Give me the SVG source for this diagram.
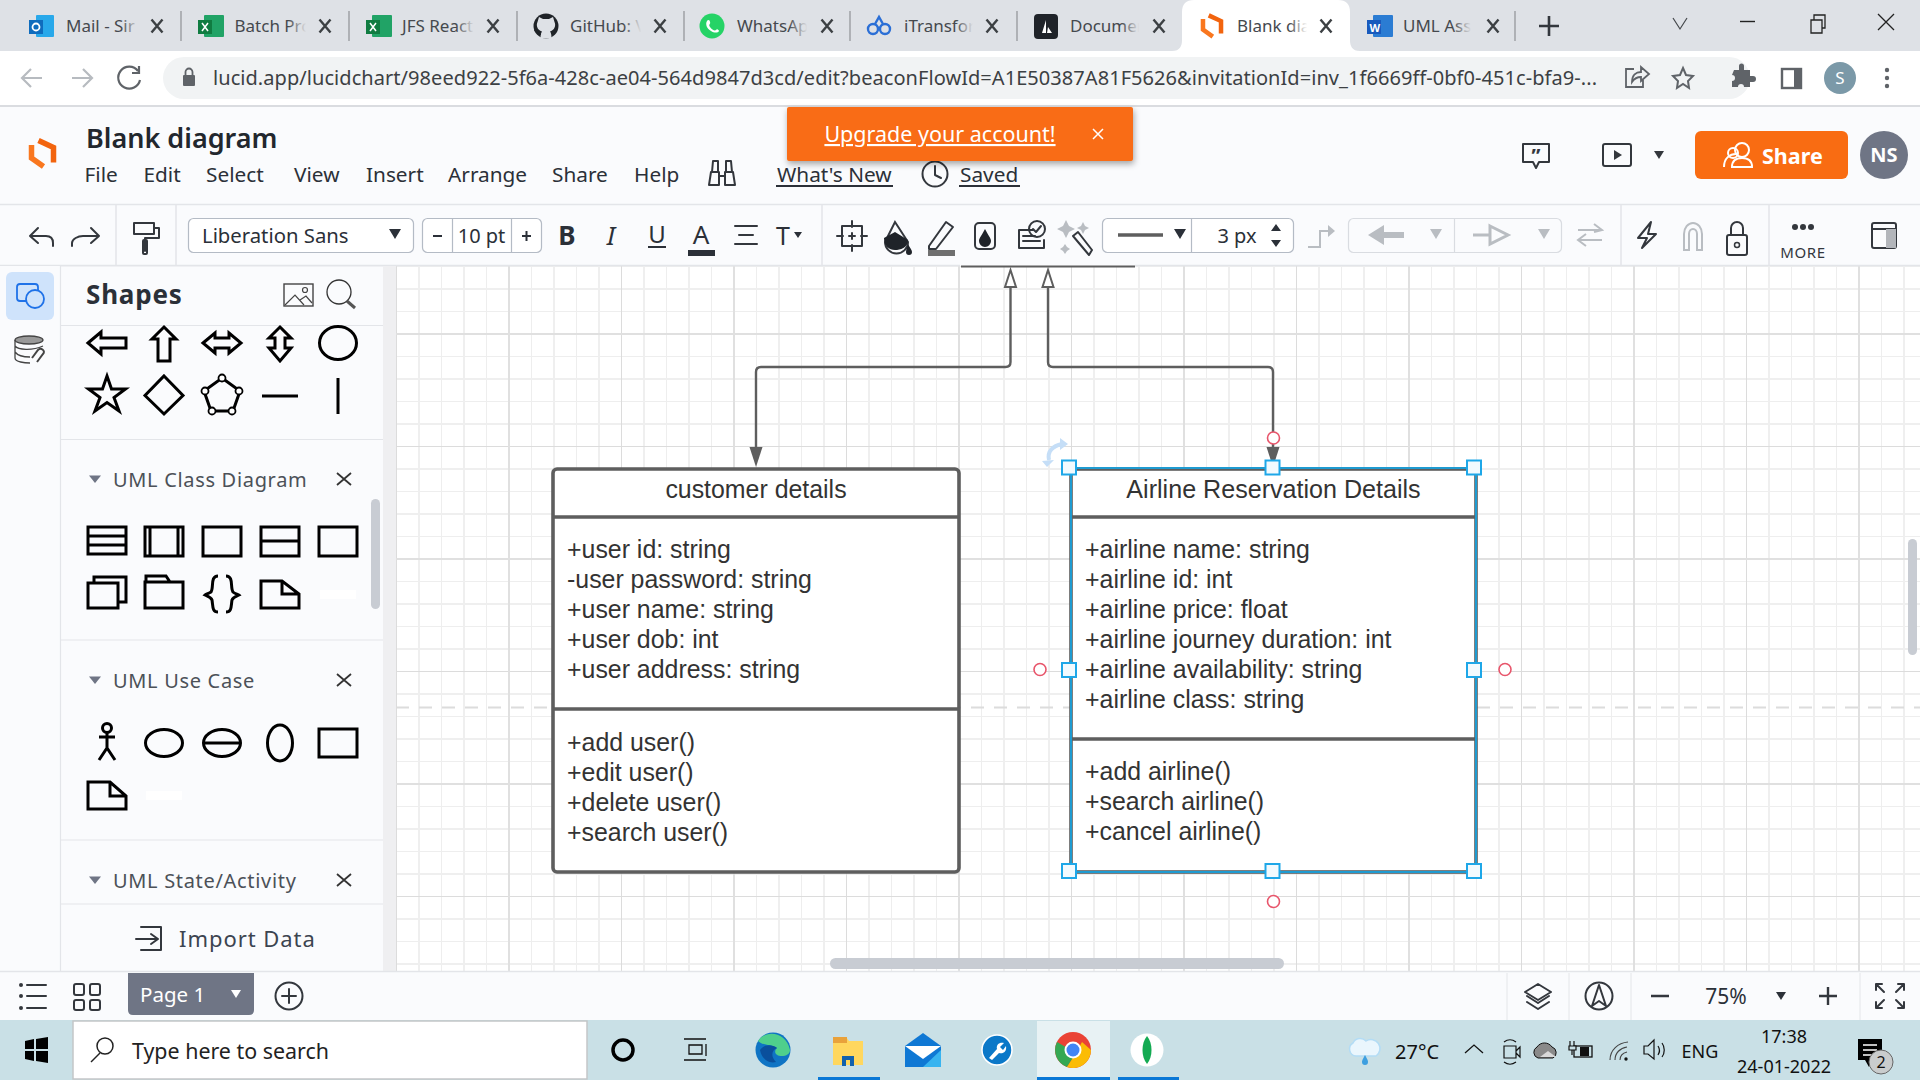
<svg xmlns="http://www.w3.org/2000/svg" width="1920" height="1080" viewBox="0 0 1920 1080">
<style>
text{font-family:"Noto Sans","Open Sans",sans-serif}
.tab{font-size:17px;fill:#45494e}
.x{fill:none;stroke:#3c4043;stroke-width:2.4}
.div{stroke:#8f9296;stroke-width:1.2}
.menu{font-size:20.800px;fill:#2b3038}
.ic{fill:none;stroke:#33373d;stroke-width:2;stroke-linecap:round;stroke-linejoin:round}
.dis{fill:none;stroke:#b9bdc2;stroke-width:2}
.sh{fill:none;stroke:#000;stroke-width:3}
.sec{font-size:20px;fill:#4c5158;letter-spacing:.68px}
.sep{stroke:#e3e5e9;stroke-width:1.5}
.uml{font-family:"Liberation Sans",Arial,sans-serif;font-size:24.900px;fill:#333}
.box{fill:#fff;stroke:#5e5e5e;stroke-width:3.6}
.bar{stroke:#5e5e5e;stroke-width:3.6}
.conn{fill:none;stroke:#5e5e5e;stroke-width:2.4}
.h{fill:#f2fafe;stroke:#1ea7e8;stroke-width:2}
.rc{fill:#fff;stroke:#e8556b;stroke-width:1.6}
.tri{fill:#2b3038}
.drop{fill:#fff;stroke:#b4bbc5;stroke-width:1.2}
</style>
<defs>
<pattern id="grid" patternUnits="userSpaceOnUse" width="225" height="225" x="59" y="109">
<rect width="225" height="225" fill="#fff"/>
<path d="M22.500 0V225M67.500 0V225M157.500 0V225M202.500 0V225M0 22.500H225M0 67.500H225M0 157.500H225M0 202.500H225" stroke="#eeeeee" stroke-width="1"/>
<path d="M45 0V225M90 0V225M135 0V225M180 0V225M0 45H225M0 90H225M0 135H225M0 180H225" stroke="#efefef" stroke-width="2"/>
<path d="M112.500 0V225M0 112.500H225" stroke="#dcdcdc" stroke-width="1"/>
<path d="M0 0V225M225 0V225M0 0H225M0 225H225" stroke="#e0e0e0" stroke-width="2"/>
</pattern>
<linearGradient id="fg"><stop offset="0" stop-color="#dee1e6" stop-opacity="0"/><stop offset=".65" stop-color="#dee1e6"/><stop offset="1" stop-color="#dee1e6"/></linearGradient>
<linearGradient id="fw"><stop offset="0" stop-color="#fff" stop-opacity="0"/><stop offset=".65" stop-color="#fff"/><stop offset="1" stop-color="#fff"/></linearGradient>
<filter id="sd" x="-5%" y="-20%" width="110%" height="150%"><feDropShadow dx="1" dy="3" stdDeviation="3" flood-color="#000" flood-opacity=".35"/></filter>
<path id="cx" d="M-5.500-6.500L5.500 6.500M5.500-6.500L-5.500 6.500" class="x"/>
<g id="lucid" fill="none" stroke-width="5.500" stroke-linejoin="miter"><path d="M-4-13L11-6V9" stroke="#f2640e"/><path d="M-11-8.500V4.500L1 13" stroke="#f9771f"/></g>
<path id="mx" d="M-7-6L7 6M7-6L-7 6" fill="none" stroke="#333" stroke-width="1.800"/>
<path id="st" d="M-6-3.500H6L0 4Z" fill="#6f7585"/>
</defs>

<g id="browser-chrome">
<rect width="1920" height="51" fill="#dee1e6"/>
<rect y="51" width="1920" height="54" fill="#fff"/>
<rect y="105" width="1920" height="2" fill="#dadce0"/>
<path d="M1172 51C1180 51 1182 46 1182 40V12C1182 4 1186 0 1194 0H1338C1346 0 1350 4 1350 12V40C1350 46 1352 51 1360 51Z" fill="#fff"/>
<path class="div" d="M181 11V41M349 11V41M517 11V41M684 11V41M850 11V41M1017 11V41M1515 11V41"/>
<text class="tab" x="66" y="32">Mail - Sir</text>
<text class="tab" x="234.500" y="32">Batch Prc</text>
<text class="tab" x="402" y="32">JFS React</text>
<text class="tab" x="570" y="32">GitHub: V</text>
<text class="tab" x="737" y="32">WhatsAp</text>
<text class="tab" x="904" y="32">iTransfor</text>
<text class="tab" x="1070" y="32">Documer</text>
<text class="tab" x="1237" y="32">Blank dia</text>
<text class="tab" x="1403" y="32">UML Ass</text>
<rect x="121" y="10" width="28" height="30" fill="url(#fg)"/>
<rect x="288" y="10" width="28" height="30" fill="url(#fg)"/>
<rect x="456" y="10" width="28" height="30" fill="url(#fg)"/>
<rect x="623" y="10" width="28" height="30" fill="url(#fg)"/>
<rect x="789" y="10" width="28" height="30" fill="url(#fg)"/>
<rect x="956" y="10" width="26" height="30" fill="url(#fg)"/>
<rect x="1121" y="10" width="28" height="30" fill="url(#fg)"/>
<rect x="1289" y="10" width="28" height="30" fill="url(#fw)"/>
<rect x="1453" y="10" width="28" height="30" fill="url(#fg)"/>
<use href="#cx" x="157" y="26"/><use href="#cx" x="325" y="26"/><use href="#cx" x="493" y="26"/><use href="#cx" x="660" y="26"/><use href="#cx" x="827" y="26"/><use href="#cx" x="992" y="26"/><use href="#cx" x="1159" y="26"/><use href="#cx" x="1326" y="26"/><use href="#cx" x="1493" y="26"/>
<rect x="36" y="15" width="18" height="22" rx="1" fill="#28a8ea"/><rect x="29" y="20" width="14" height="14" fill="#0f6cbd"/><circle cx="36" cy="27" r="3.500" fill="none" stroke="#fff" stroke-width="1.800"/>
<rect x="204" y="15" width="20" height="22" rx="1" fill="#21a366"/><rect x="198" y="20" width="14" height="14" fill="#107c41"/><path d="M202 23L208 31M208 23L202 31" stroke="#fff" stroke-width="1.500"/>
<rect x="372" y="15" width="20" height="22" rx="1" fill="#21a366"/><rect x="366" y="20" width="14" height="14" fill="#107c41"/><path d="M370 23L376 31M376 23L370 31" stroke="#fff" stroke-width="1.500"/>
<circle cx="546" cy="26" r="12.500" fill="#1f2328"/><path d="M539 17L543 19H549L553 17L554.500 22C556 25 555 30 550 31.500C551 33 551.500 34 551.500 38.500H540.500C540.500 34.500 541 33 542 31.500C537 30 536 25 537.500 22Z" fill="#dee1e6"/><path d="M534.500 30C537 31 538 34 541 34" fill="none" stroke="#1f2328" stroke-width="1.800"/>
<circle cx="712" cy="26" r="12.500" fill="#25d366"/><path d="M707 21C708 19 710 20 710 22C711 24 708 24 710 27C712 30 715 31 716 30C717 28 719 30 719 31C718 33 714 33 711 31C707 29 705 24 707 21Z" fill="#fff"/>
<g fill="none" stroke="#2b6fd6" stroke-width="2.400"><circle cx="873" cy="29" r="5"/><circle cx="885" cy="29" r="5"/><path d="M875 24L879 17L883 24M878 29H880"/></g>
<rect x="1034" y="14" width="24" height="25" rx="4" fill="#1f2329"/><path d="M1046 20L1042 33H1046ZM1048 27L1047 33H1052Z" fill="#fff"/>
<use href="#lucid" transform="translate(1212 26) scale(.82)"/>
<rect x="1373" y="15" width="20" height="22" rx="1" fill="#2b7cd3"/><rect x="1367" y="20" width="14" height="14" fill="#185abd"/><text x="1369.500" y="31.500" font-size="11" font-weight="700" fill="#fff">W</text>
<path d="M1549 16V36M1539 26H1559" stroke="#33373d" stroke-width="2.600"/>
<path d="M1673 18L1680 29L1687 18" fill="none" stroke="#44474b" stroke-width="1.200"/>
<path d="M1740 21.500H1755" stroke="#222" stroke-width="1.400"/>
<path d="M1811 20H1822V33H1811ZM1814 20V15H1825V28H1822" fill="none" stroke="#222" stroke-width="1.300"/>
<path d="M1878 14L1894 30M1894 14L1878 30" stroke="#222" stroke-width="1.300"/>
<rect x="163" y="57" width="1587" height="42" rx="21" fill="#f1f3f4"/>
<path d="M42 78H23M31 69L22 78L31 87" fill="none" stroke="#b7bbc0" stroke-width="2.200"/>
<path d="M72 78H91M83 69L92 78L83 87" fill="none" stroke="#b7bbc0" stroke-width="2.200"/>
<path d="M138 71A11 11 0 1 0 140 80M139 66V73H132" fill="none" stroke="#5f6368" stroke-width="2.200"/>
<rect x="183" y="75" width="12" height="11" rx="1" fill="#5f6368"/><path d="M185.500 75V72A3.500 3.500 0 0 1 192.500 72V75" fill="none" stroke="#5f6368" stroke-width="1.800"/>
<text x="213" y="85" font-size="20" fill="#3c4043" textLength="1384" lengthAdjust="spacing">lucid.app/lucidchart/98eed922-5f6a-428c-ae04-564d9847d3cd/edit?beaconFlowId=A1E50387A81F5626&amp;invitationId=inv_1f6669ff-0bf0-451c-bfa9-...</text>
<path d="M1643 80V87H1626V69H1634M1632 82C1632 75 1636 72 1641 72V67L1649 74L1641 81V77C1637 77 1634 79 1632 82Z" fill="none" stroke="#5f6368" stroke-width="1.800"/>
<path d="M1683 68L1686 75L1693 76L1688 81L1689 88L1683 84L1677 88L1678 81L1673 76L1680 75Z" fill="none" stroke="#5f6368" stroke-width="2"/>
<path d="M1736 73H1741V69A2.500 2.500 0 0 1 1746 69V73H1752V79H1755A3 3 0 0 1 1755 85H1752V90H1746A3 3 0 0 0 1740 90H1734V84A3 3 0 0 0 1734 78Z" fill="#5f6368" transform="translate(-2 -3)"/>
<rect x="1782" y="69" width="19" height="19" fill="none" stroke="#5f6368" stroke-width="2.400"/><rect x="1794" y="69" width="7" height="19" fill="#5f6368"/>
<circle cx="1840" cy="78" r="16" fill="#7b99a8"/><text x="1840" y="84" font-size="17" fill="#fff" text-anchor="middle">S</text>
<g fill="#5f6368"><circle cx="1887" cy="70" r="2.200"/><circle cx="1887" cy="78" r="2.200"/><circle cx="1887" cy="86" r="2.200"/></g>
</g>

<g id="canvas">
<rect x="396" y="266" width="1524" height="705" fill="url(#grid)"/>
<path d="M396 707.500H1920" stroke="#dcdcdc" stroke-width="2" stroke-dasharray="13 10"/>
<rect x="830" y="958" width="454" height="11" rx="5.500" fill="#c8ccd3"/>
<rect x="1908" y="539" width="9" height="116" rx="4.500" fill="#c8ccd3"/>
</g>

<g id="app-header">
<rect y="107" width="1920" height="97" fill="#fafbfd"/>
<use href="#lucid" transform="translate(42.500 153.500)"/>
<text x="86" y="148" font-size="27" font-weight="600" fill="#22272e">Blank diagram</text>
<text class="menu" x="84.500" y="182">File</text><text class="menu" x="143.500" y="182">Edit</text><text class="menu" x="206" y="182">Select</text><text class="menu" x="294" y="182">View</text><text class="menu" x="366" y="182">Insert</text><text class="menu" x="448" y="182">Arrange</text><text class="menu" x="552" y="182">Share</text><text class="menu" x="634" y="182">Help</text>
<path class="ic" d="M709 185L711 172H719V185ZM735 185L733 172H725V185ZM719 176H725M712 172L713 161H718V172M732 172L731 161H726V172"/>
<text class="menu" x="777" y="182">What's New</text><path d="M776 186H893" stroke="#2b3038" stroke-width="1.800"/>
<circle class="ic" cx="935" cy="174" r="12.500"/><path class="ic" d="M935 166V175L941 178"/>
<text class="menu" x="960" y="182">Saved</text><path d="M959 186H1020" stroke="#2b3038" stroke-width="1.800"/>
<g id="upgrade-banner"><rect x="787" y="107" width="346" height="54" rx="2" fill="#f96c12" filter="url(#sd)"/>
<text x="940" y="142" font-size="21.500" fill="#fff" text-anchor="middle" text-decoration="underline">Upgrade your account!</text>
<path d="M1093 129L1103 139M1103 129L1093 139" stroke="#fff" stroke-width="1.500"/></g>
<path class="ic" d="M1523 144H1549V162H1539L1536 168L1533 162H1523Z"/><text x="1536" y="163" font-size="20" font-weight="700" fill="#33373d" text-anchor="middle">”</text>
<rect class="ic" x="1603" y="144" width="28" height="22" rx="2"/><path d="M1614 150L1622 155L1614 160Z" fill="#33373d"/>
<path d="M1654 151H1664L1659 159Z" fill="#33373d"/>
<rect x="1695" y="131" width="153" height="48" rx="6" fill="#f96c12"/>
<g fill="none" stroke="#fff" stroke-width="2"><circle cx="1742" cy="150" r="7"/><path d="M1724 167C1724 158 1730 154 1736 154M1732 167C1732 160 1737 158 1742 158C1750 158 1752 162 1752 167Z"/><circle cx="1733" cy="153" r="5"/></g>
<text x="1762" y="164" font-size="21.500" font-weight="700" fill="#fff">Share</text>
<circle cx="1884" cy="155" r="24" fill="#6f7585"/><text x="1884" y="162" font-size="20" font-weight="700" fill="#fff" text-anchor="middle">NS</text>
</g>

<g id="toolbar">
<rect y="204" width="1920" height="62" fill="#fafbfd"/>
<path d="M0 204.500H1920M0 265.500H960M1135 265.500H1920" stroke="#e3e5e9" stroke-width="1.500"/>
<path class="sep" d="M116 205V265M176 205V265M822 205V265M1621 205V265M1769 205V265"/>
<path class="ic" d="M30 236L38 228M30 236H46C51 236 53 239 53 243V246M30 236L38 243"/>
<path class="ic" d="M100 236L92 228M100 236H84C79 236 73 239 73 243V246M100 236L92 243" transform="translate(-1 0)"/>
<path class="ic" d="M134 223H154V234H134ZM154 228H159V238H145V251"/><rect x="143" y="240" width="4" height="14" rx="1" fill="none" stroke="#33373d" stroke-width="2"/>
<rect class="drop" x="188.500" y="218.500" width="225" height="34" rx="5"/>
<text x="202" y="243" font-size="20.300" fill="#2b3038">Liberation Sans</text>
<path d="M389 229H401L395 239Z" class="tri"/>
<rect class="drop" x="422.500" y="218.500" width="119" height="34" rx="5"/>
<path d="M452.500 218V252M511.500 218V252" stroke="#b4bbc5" stroke-width="1.200"/>
<path d="M433 236H442M522 236H531M526.500 231V241" stroke="#2b3038" stroke-width="2"/>
<text x="481.500" y="243" font-size="20" fill="#2b3038" text-anchor="middle">10 pt</text>
<text x="567" y="245" font-size="26" font-weight="700" fill="#2b3038" text-anchor="middle">B</text>
<text x="611" y="245" font-size="26" font-style="italic" fill="#2b3038" text-anchor="middle">I</text>
<text x="657" y="243" font-size="24" fill="#2b3038" text-anchor="middle">U</text><path d="M648 247H666" stroke="#2b3038" stroke-width="2"/>
<text x="701" y="244" font-size="26" fill="#2b3038" text-anchor="middle">A</text><rect x="688" y="250" width="27" height="6" fill="#2b3038"/>
<path class="ic" d="M735 226H757M739 235H753M735 244H757"/>
<text x="783" y="245" font-size="25" fill="#2b3038" text-anchor="middle">T</text><path d="M794 232H802L798 238Z" class="tri"/>
<path class="ic" d="M842 226H862V246H842Z"/><path class="ic" d="M852 221V227M852 245V251M837 236H843M861 236H867M849 236H855M852 233V239"/>
<path d="M895 222L908 242A9 9 0 0 1 885 242Z" fill="none" stroke="#33373d" stroke-width="2"/><path d="M884 238L895 232L908 240C908 248 900 250 895 250C889 250 884 246 884 238Z" fill="#1f2329"/><path d="M908 244C910 248 912 250 912 252A3 3 0 0 1 906 252C906 250 907 248 908 244Z" fill="#1f2329"/>
<path class="ic" d="M929 246L946 222L953 227L936 249H929Z"/><rect x="928" y="250" width="27" height="6" fill="#6f6f6f"/>
<rect class="ic" x="975" y="223" width="20" height="26" rx="4"/><path d="M985 229C982 235 979 238 979 241A6 6 0 0 0 991 241C991 238 988 235 985 229Z" fill="#1f2329"/>
<path class="ic" d="M1019 230H1033M1019 230V248H1044V240M1023 236H1035M1023 241H1040"/><circle class="ic" cx="1037" cy="229" r="8"/><path class="ic" d="M1033 229L1036 232L1041 226"/>
<path d="M1073 236L1089 255L1092 250L1078 232Z" class="ic"/><path d="M1063 226L1066 220L1069 226L1075 229L1069 232L1066 238L1063 232L1057 229Z M1083 222L1085 226L1089 228L1085 230L1083 234L1081 230L1077 228L1081 226Z M1065 244L1067 247L1070 249L1067 251L1065 254L1063 251L1060 249L1063 247Z" fill="#b9bdc2"/>
<rect class="drop" x="1102.500" y="218.500" width="191" height="34" rx="5"/><path d="M1191.500 218V252" stroke="#b4bbc5" stroke-width="1.200"/>
<path d="M1118 235H1163" stroke="#5e5e5e" stroke-width="3.500"/><path d="M1174 229H1186L1180 239Z" class="tri"/>
<text x="1237" y="243" font-size="20" fill="#2b3038" text-anchor="middle">3 px</text>
<path d="M1271 231L1276 224L1281 231ZM1271 240H1281L1276 247Z" class="tri"/>
<path class="dis" d="M1308 247H1320V231H1332"/><path d="M1328 225L1335 231L1328 237Z" fill="#b9bdc2"/>
<rect x="1348.500" y="218.500" width="213" height="34" rx="5" fill="none" stroke="#d9dce1" stroke-width="1.200"/><path d="M1454.500 218V252" stroke="#d9dce1" stroke-width="1.200"/>
<path d="M1368 235L1384 225V232H1404V238H1384V245Z" fill="#b9bdc2"/><path d="M1430 229H1442L1436 239Z" fill="#b9bdc2"/>
<path d="M1473 235H1490M1490 226L1508 235L1490 244Z" fill="none" stroke="#b9bdc2" stroke-width="3"/><path d="M1538 229H1550L1544 239Z" fill="#b9bdc2"/>
<path class="dis" d="M1578 230H1602M1594 224L1602 230L1594 232M1602 240H1578M1586 234L1578 240L1586 246"/>
<path class="ic" d="M1651 222L1638 238H1647L1642 248L1656 234H1648Z" stroke-width="2.200"/>
<path class="dis" d="M1684 250V234A9 11 0 0 1 1702 234V250H1697V234A4 5 0 0 0 1689 234V250Z"/>
<rect class="ic" x="1727" y="235" width="20" height="20" rx="2"/><path class="ic" d="M1731 235V228A6 6 0 0 1 1743 228V235"/><circle cx="1737" cy="245" r="2.500" fill="none" stroke="#33373d" stroke-width="1.500"/>
<g fill="#33373d"><circle cx="1795" cy="227" r="3"/><circle cx="1803" cy="227" r="3"/><circle cx="1811" cy="227" r="3"/></g>
<text x="1803" y="258" font-size="15" letter-spacing=".6" fill="#33373d" text-anchor="middle">MORE</text>
<rect class="ic" x="1872" y="223" width="24" height="25" rx="2"/><path class="ic" d="M1872 229H1896"/><rect x="1886" y="229" width="10" height="19" fill="#b3b6bb"/>
</g>

<g id="sidebar">
<rect y="266" width="383" height="706" fill="#fafbfd"/>
<rect x="383" y="266" width="13" height="706" fill="#efeff1"/>
<path d="M60.500 266V972M60 266H383" stroke="#e3e5e9" stroke-width="1.200"/>
<rect x="6" y="272" width="48" height="48" rx="6" fill="#cfe3fb"/>
<rect x="17" y="284" width="21" height="17" rx="3" fill="none" stroke="#1f72e8" stroke-width="1.800"/><circle cx="35" cy="299" r="9" fill="#cfe3fb" stroke="#1f72e8" stroke-width="1.800"/>
<ellipse cx="29" cy="340" rx="14" ry="4" fill="#999" stroke="#444" stroke-width="1.300"/><path d="M15 340V358C15 362 25 363 30 363M15 346C18 350 32 351 43 346M15 352C18 356 25 357 30 357" fill="none" stroke="#444" stroke-width="1.300"/><path d="M32 358L38 350C41 347 46 351 43 354L37 362" fill="none" stroke="#444" stroke-width="2"/>
<text x="86" y="304" font-size="26" font-weight="700" fill="#2b3038" letter-spacing=".8">Shapes</text>
<rect x="284" y="284" width="29" height="22" fill="none" stroke="#444" stroke-width="1.400"/><path d="M285 305L295 295L304 305M300 300L306 296L312 303" fill="none" stroke="#444" stroke-width="1.200"/><circle cx="305" cy="290" r="2.500" fill="none" stroke="#444" stroke-width="1.200"/>
<circle cx="339" cy="292" r="12" fill="none" stroke="#333" stroke-width="1.300"/><path d="M347 301L355 308" stroke="#555" stroke-width="3"/>
<path d="M61 325.500H383M61 439.500H383M61 640H383M61 840H383M61 904H383" stroke="#e3e5e9" stroke-width="1.200"/>
<g id="shape-palette">
<path class="sh" d="M88 343L101 332V338H126V348H101V354Z"/>
<path class="sh" d="M164 327L176 339H170V361H158V339H152Z"/>
<path class="sh" d="M203 343L215 333V338H229V333L241 343L229 353V348H215V353Z"/>
<path class="sh" d="M280 327L291 338H285V348H291L280 361L269 348H275V338H269Z"/>
<ellipse class="sh" cx="338" cy="343" rx="18.500" ry="16.500"/>
<path class="sh" d="M107 376L111.500 389H125.500L114 397.500L119 411L107 402.500L95 411L100 397.500L88.500 389H102.500Z"/>
<path class="sh" d="M164 376L183 395.500L164 414L145 395.500Z"/>
<path class="sh" d="M222 378L240 391L233 411H211L204 391Z"/><g fill="#fff" stroke="#000" stroke-width="1.800"><circle cx="222" cy="378" r="3.500"/><circle cx="239" cy="391" r="3.500"/><circle cx="232" cy="411" r="3.500"/><circle cx="212" cy="411" r="3.500"/><circle cx="205" cy="391" r="3.500"/></g>
<path class="sh" d="M262 396H298M338 378V414"/>
<text class="sec" x="113" y="487">UML Class Diagram</text><use href="#st" x="95" y="479"/><use href="#mx" x="344" y="479"/>
<path class="sh" d="M88 527H126V554H88ZM88 536H126M88 545H126"/>
<path class="sh" d="M145 527H183V556H145ZM150 527V556M178 527V556"/>
<path class="sh" d="M203 527H241V556H203Z"/>
<path class="sh" d="M261 527H299V556H261ZM261 541H299"/>
<path class="sh" d="M319 527H357V556H319Z"/>
<path class="sh" d="M88 583H118V608H88ZM94 583V577H126V602H118"/>
<path class="sh" d="M145 582H183V608H145ZM146 582V576H166L170 582"/>
<path class="sh" d="M218 576C210 576 214 588 211 592C208 594 206 594 205 595C207 596 211 597 212 600C213 606 212 612 218 612M226 576C234 576 230 588 233 592C235 594 238 594 239 595C237 596 233 597 232 600C231 606 232 612 226 612"/>
<path class="sh" d="M261 581H282L299 594V608H261ZM282 581V594H299"/>
<rect x="320" y="590" width="36" height="9" fill="#fff"/>
<text class="sec" x="113" y="688">UML Use Case</text><use href="#st" x="95" y="680"/><use href="#mx" x="344" y="680"/>
<circle class="sh" cx="107" cy="728" r="4.500"/><path class="sh" d="M107 733V748M99 737H115M99 760L107 748L115 760"/>
<ellipse class="sh" cx="164" cy="743" rx="18.500" ry="13.500"/>
<ellipse class="sh" cx="222" cy="743" rx="18.500" ry="13.500"/><path class="sh" d="M203.500 743H240.500"/>
<ellipse class="sh" cx="280" cy="743" rx="12.500" ry="18"/>
<path class="sh" d="M319 729H357V757H319Z"/>
<path class="sh" d="M88 782H110L126 796V809H88ZM110 782V796H126"/>
<rect x="146" y="791" width="36" height="9" fill="#fff"/>
<text class="sec" x="113" y="888">UML State/Activity</text><use href="#st" x="95" y="880"/><use href="#mx" x="344" y="880"/>
<rect x="371" y="499" width="9" height="110" rx="4.500" fill="#c8ccd3"/>
<path class="ic" d="M136 939H158M151 934L158 939L151 944M141 927H161V950H141" stroke-width="1.500"/>
<text x="179" y="947" font-size="22" fill="#3c4450" letter-spacing=".95">Import Data</text>
</g>
</g>

<g id="connectors">
<path d="M961 266.500H1135" stroke="#5e5e5e" stroke-width="2"/>
<path class="conn" d="M1010.500 287V362Q1010.500 367 1005.500 367H761Q756 367 756 372V448"/>
<path class="conn" d="M1048 287V362Q1048 367 1053 367H1268Q1273 367 1273 372V448"/>
<path d="M1010.500 270L1005 287H1016Z" fill="#fff" stroke="#5e5e5e" stroke-width="2"/>
<path d="M1048 270L1042.500 287H1053.500Z" fill="#fff" stroke="#5e5e5e" stroke-width="2"/>
<path d="M756 467L749.500 447H762.500Z" fill="#5e5e5e"/>
<path d="M1273 467L1266.500 447H1279.500Z" fill="#5e5e5e"/>
</g>

<g id="customer-details">
<rect class="box" x="553" y="469" width="406" height="403" rx="4"/>
<path class="bar" d="M553 517H959M553 709H959"/>
<text class="uml" x="756" y="498" text-anchor="middle">customer details</text>
<text class="uml" x="567" y="558">+user id: string</text>
<text class="uml" x="567" y="588">-user password: string</text>
<text class="uml" x="567" y="618">+user name: string</text>
<text class="uml" x="567" y="648">+user dob: int</text>
<text class="uml" x="567" y="678">+user address: string</text>
<text class="uml" x="567" y="751">+add user()</text>
<text class="uml" x="567" y="781">+edit user()</text>
<text class="uml" x="567" y="811">+delete user()</text>
<text class="uml" x="567" y="841">+search user()</text>
</g>

<g id="airline-reservation-details">
<rect class="box" x="1071" y="469" width="405" height="403"/>
<path class="bar" d="M1071 517H1476M1071 739H1476"/>
<text class="uml" x="1273.500" y="498" text-anchor="middle" font-size="25.100" style="font-size:25.100px">Airline Reservation Details</text>
<text class="uml" x="1085" y="558">+airline name: string</text>
<text class="uml" x="1085" y="588">+airline id: int</text>
<text class="uml" x="1085" y="618">+airline price: float</text>
<text class="uml" x="1085" y="648">+airline journey duration: int</text>
<text class="uml" x="1085" y="678">+airline availability: string</text>
<text class="uml" x="1085" y="708">+airline class: string</text>
<text class="uml" x="1085" y="780">+add airline()</text>
<text class="uml" x="1085" y="810">+search airline()</text>
<text class="uml" x="1085" y="840">+cancel airline()</text>
<rect x="1071" y="468" width="405" height="404" fill="none" stroke="#1f9bd1" stroke-width="2"/>
<path d="M1049 460C1047 451 1053 446 1062 444" fill="none" stroke="#c5def7" stroke-width="4"/><path d="M1060 438L1068 444L1060 450ZM1042 461L1054 460L1047 467Z" fill="#c5def7"/>
<rect class="h" x="1062" y="460.500" width="14" height="14"/><rect class="h" x="1265.500" y="460.500" width="14" height="14"/><rect class="h" x="1467" y="460.500" width="14" height="14"/>
<rect class="h" x="1062" y="663" width="14" height="14"/><rect class="h" x="1467" y="663" width="14" height="14"/>
<rect class="h" x="1062" y="864" width="14" height="14"/><rect class="h" x="1265.500" y="864" width="14" height="14"/><rect class="h" x="1467" y="864" width="14" height="14"/>
<circle class="rc" cx="1273.500" cy="438" r="6"/><circle class="rc" cx="1040" cy="669.500" r="6"/><circle class="rc" cx="1505" cy="669.500" r="6"/><circle class="rc" cx="1273.500" cy="901.500" r="6"/>
</g>

<g id="bottom-bar">
<rect y="971" width="1920" height="50" fill="#fafbfd"/>
<path d="M0 971.500H1920" stroke="#e3e5e9" stroke-width="1.500"/>
<path d="M1507 973V1020M1569 973V1020M1631 973V1020M1860 973V1020" stroke="#e8eaed" stroke-width="1.200"/>
<path class="ic" d="M27 985H46M27 996H46M27 1008H46"/><g fill="#33373d"><circle cx="21" cy="985" r="2"/><circle cx="21" cy="996" r="2"/><circle cx="21" cy="1008" r="2"/></g>
<g class="ic"><rect x="74" y="984" width="10" height="11" rx="2"/><rect x="90" y="984" width="10" height="11" rx="2"/><rect x="74" y="1000" width="10" height="10" rx="2"/><rect x="90" y="1000" width="10" height="10" rx="2"/></g>
<path d="M128 973H254V1010Q254 1015 249 1015H133Q128 1015 128 1010Z" fill="#6f7585"/>
<text x="140" y="1002" font-size="20.500" fill="#fff">Page 1</text><path d="M231 990H241L236 998Z" fill="#fff"/>
<circle class="ic" cx="289" cy="996" r="13.500" stroke-width="1.600"/><path class="ic" d="M289 989V1003M282 996H296" stroke-width="1.600"/>
<path class="ic" d="M1538 984L1551 992L1538 1000L1525 992ZM1527 996L1538 1003L1549 996M1527 1002L1538 1009L1549 1002" stroke-width="1.500"/>
<circle class="ic" cx="1599" cy="996" r="13.500" stroke-width="1.500"/><path class="ic" d="M1592 1006L1599 985L1606 1006L1599 1001Z" stroke-width="1.500"/>
<path d="M1651 996H1669M1819 996H1837M1828 987V1005" stroke="#33373d" stroke-width="2.400"/>
<text x="1726" y="1004" font-size="21" fill="#2b3038" text-anchor="middle">75%</text><path d="M1776 992H1786L1781 1000Z" class="tri"/>
<path class="ic" d="M1876 990V984H1882M1876 984L1884 992M1904 990V984H1898M1904 984L1896 992M1876 1002V1008H1882M1876 1008L1884 1000M1904 1002V1008H1898M1904 1008L1896 1000" stroke-width="1.500"/>
</g>

<g id="taskbar">
<rect y="1020" width="1920" height="60" fill="#c9e0e6"/>
<path d="M25 1041L34 1039V1049H25ZM36 1039L48 1037V1049H36ZM25 1051H34V1061L25 1059ZM36 1051H48V1063L36 1061Z" fill="#000"/>
<rect x="73" y="1021" width="514" height="58" fill="#fff" stroke="#c4c6c8" stroke-width="1.500"/>
<circle cx="105" cy="1046" r="8" fill="none" stroke="#222" stroke-width="1.500"/><path d="M100 1053L91 1062" stroke="#222" stroke-width="1.500"/>
<text x="132" y="1059" font-size="21.400" fill="#222">Type here to search</text>
<circle cx="623" cy="1050" r="10" fill="none" stroke="#000" stroke-width="3.500"/>
<path d="M684 1039H706M684 1060H706M689 1045H702V1054H689ZM706 1044V1056" fill="none" stroke="#111" stroke-width="1.300"/>
<circle cx="773" cy="1050" r="17.500" fill="#0f74c4"/><path d="M758 1041C764 1030 786 1030 790 1050C790 1054 786 1056 782 1056C776 1056 773 1052 777 1048C772 1044 763 1046 758 1041Z" fill="#4fcf8c"/><path d="M777 1048C772 1050 770 1056 776 1062C770 1064 762 1060 760 1050C764 1044 772 1044 777 1048Z" fill="#0a4f9c"/>
<path d="M833 1037H846L849 1041H863V1065H833Z" fill="#ffd75e"/><rect x="833" y="1037" width="14" height="6" fill="#e9a23b"/><path d="M842 1066V1056H854V1066H850V1060H846V1066Z" fill="#1261ac"/>
<path d="M923 1033L941 1046V1067H905V1046Z" fill="#0f78d4"/><path d="M905 1046H941L923 1059Z" fill="#fff"/><path d="M941 1050V1067H923Z" fill="#38b4f0"/>
<circle cx="997" cy="1050" r="15" fill="#0b78c8" stroke="#fff" stroke-width="1.500"/><path d="M989 1058L997 1049C996 1045 999 1042 1004 1043L1000 1047L1003 1050L1006 1046C1007 1052 1003 1054 999 1053L992 1060Z" fill="#fff"/>
<rect x="1037" y="1021" width="73" height="59" fill="#e8f2f4"/>
<g transform="translate(1073 1050)"><circle r="18" fill="#ea4335"/><path d="M-16-8A18 18 0 0 0-6 17L3 3Z" fill="#34a853"/><path d="M18 0A18 18 0 0 1-6 17L3 3L9-8Z" fill="#fbbc05"/><circle r="8.500" fill="#fff"/><circle r="6.500" fill="#4285f4"/></g>
<circle cx="1147" cy="1050" r="16.500" fill="#fff"/><path d="M1147 1036C1153 1043 1153 1057 1147 1064C1141 1057 1141 1043 1147 1036Z" fill="#13aa52"/>
<rect x="818" y="1077" width="62" height="3" fill="#0a78d6"/><rect x="1037" y="1077" width="73" height="3" fill="#0a78d6"/><rect x="1118" y="1077" width="61" height="3" fill="#0a78d6"/>
<path d="M1356 1056A7 7 0 0 1 1353 1043A8 8 0 0 1 1366 1041A8 8 0 0 1 1376 1056Z" fill="#eaf6fd" stroke="#b3dcf5" stroke-width="1.500"/><path d="M1365 1055C1363 1059 1362 1060 1362 1062A3 3 0 0 0 1368 1062C1368 1060 1367 1059 1365 1055Z" fill="#3d9fe0"/>
<text x="1395" y="1059" font-size="20" fill="#111">27°C</text>
<path d="M1465 1053L1474 1045L1483 1053" fill="none" stroke="#111" stroke-width="1.300"/>
<path d="M1504 1046H1516V1058H1504ZM1516 1051L1520 1047V1057L1516 1053M1504 1042C1508 1039 1512 1039 1516 1042M1504 1062C1508 1065 1512 1065 1516 1062" fill="none" stroke="#111" stroke-width="1.200"/>
<path d="M1538 1058A6 6 0 0 1 1537 1047A9 9 0 0 1 1552 1047A6 6 0 0 1 1553 1058Z" fill="#8a8a8a" stroke="#111" stroke-width="1"/><path d="M1540 1057L1548 1051L1556 1057Z" fill="#d9d9d9"/>
<rect x="1574" y="1046" width="18" height="11" fill="none" stroke="#111" stroke-width="1.300"/><rect x="1580" y="1047" width="9" height="9" fill="#111"/><path d="M1570 1041V1046M1574 1041V1046M1569 1046H1576V1050H1569ZM1572 1050V1055" stroke="#111" fill="#c9e0e6" stroke-width="1.200"/>
<path d="M1610 1060C1610 1050 1618 1043 1628 1042M1615 1060C1615 1053 1620 1048 1627 1047M1620 1060C1620 1056 1623 1053 1627 1052" fill="none" stroke="#444" stroke-width="1.100"/>
<circle cx="1626" cy="1059" r="1.700" fill="#111"/>
<path d="M1644 1046H1648L1654 1040V1059L1648 1054H1644ZM1658 1046C1660 1049 1660 1052 1658 1055M1662 1043C1665 1047 1665 1053 1662 1057" fill="none" stroke="#111" stroke-width="1.200"/>
<text x="1700" y="1058" font-size="18" fill="#111" text-anchor="middle">ENG</text>
<text x="1784" y="1043" font-size="18" fill="#111" text-anchor="middle">17:38</text>
<text x="1784" y="1073" font-size="18" fill="#111" text-anchor="middle">24-01-2022</text>
<path d="M1858 1039H1882V1060H1873L1869 1067L1865 1060H1858Z" fill="#000"/><path d="M1863 1045H1877M1863 1050H1877M1863 1055H1873" stroke="#fff" stroke-width="1.400"/>
<circle cx="1881" cy="1062" r="12" fill="#c9cccd" stroke="#666" stroke-width="1"/><text x="1881" y="1068" font-size="16" fill="#111" text-anchor="middle">2</text>
</g>
</svg>
